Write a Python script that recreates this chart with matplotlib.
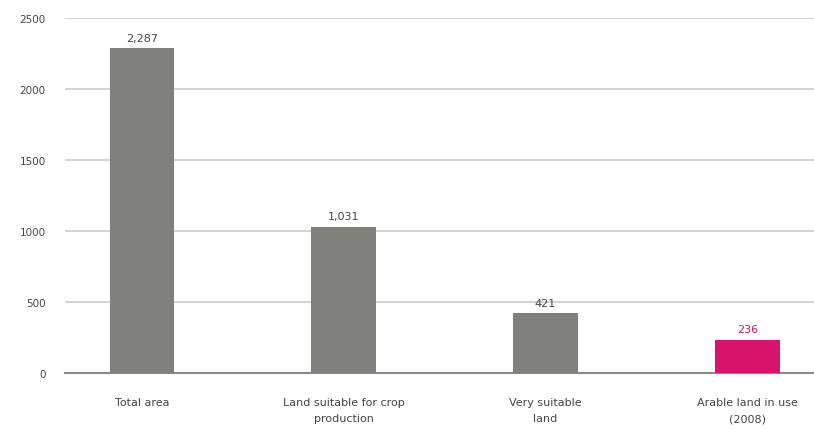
import matplotlib.pyplot as plt
import numpy as np

categories = ["Total area", "Land suitable for crop\nproduction", "Very suitable\nland", "Arable land in use\n(2008)"]
values = [2287, 1031, 421, 236]
value_labels = ["2,287", "1,031", "421", "236"]
colors = ["#80807c", "#80807c", "#80807c", "#d7136b"]
label_colors = ["#444444", "#444444", "#444444", "#d7136b"]

fig = plt.figure(figsize=(8.14, 4.31), dpi=100)
ax = fig.add_axes([0.08, 0.132, 0.92, 0.824])

x = np.arange(len(values))
ax.bar(x, values, width=0.32, color=colors, zorder=3)

for xi, v, lab, c in zip(x, values, value_labels, label_colors):
    ax.text(xi, v + 40, lab, ha="center", va="bottom", fontsize=8, color=c)

ax.set_ylim(0, 2500)
ax.set_xlim(-0.38, 3.33)
ax.set_yticks([0, 500, 1000, 1500, 2000, 2500])
ax.set_xticks(x)
ax.set_xticklabels(categories, fontsize=8, color="#444444", linespacing=1.8)
ax.tick_params(axis="y", labelsize=7.5, colors="#444444", length=0, pad=14)
ax.tick_params(axis="x", length=0, pad=17)
ax.grid(axis="y", color="#d4d4d4", linewidth=1.5, zorder=0)
for s in ["top", "right", "left"]:
    ax.spines[s].set_visible(False)
ax.spines["bottom"].set_color("#8a8a8a")
ax.spines["bottom"].set_linewidth(1.5)

plt.savefig("out.png", dpi=100)
plt.close()
